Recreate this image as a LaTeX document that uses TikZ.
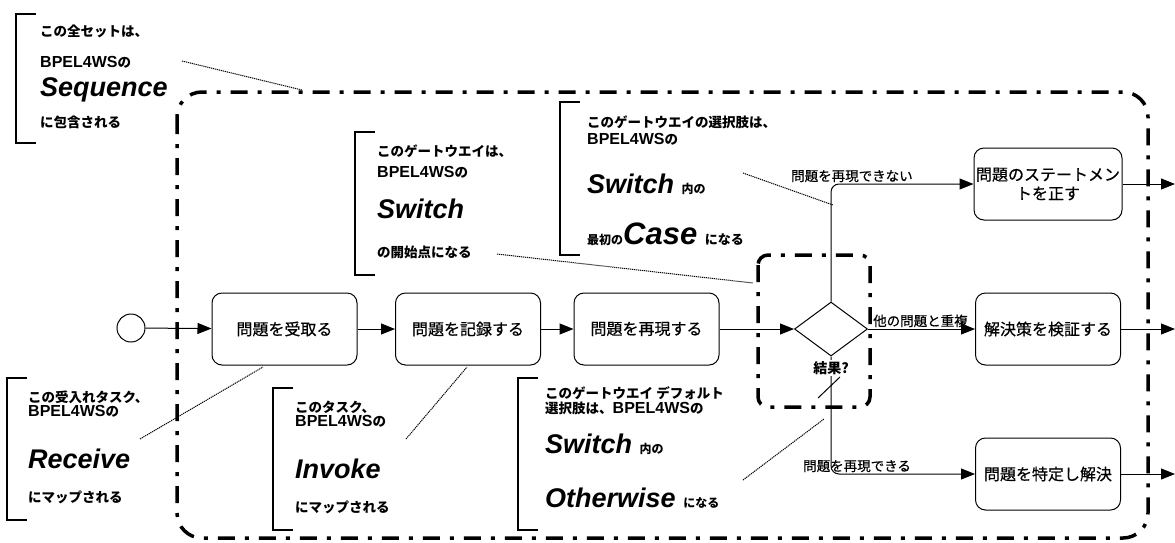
\documentclass[tikz,border=0pt]{standalone}
\usepackage{fontspec}
\setmainfont{Liberation Sans}
\newfontfamily\jp{Noto Sans CJK JP}
\newfontfamily\jpm[FakeBold=0.5]{Noto Sans CJK JP}
\newcommand{\bp}{{\fontsize{16}{18}\selectfont BPEL4WS}}
\usetikzlibrary{shapes.geometric,arrows.meta}
\begin{document}
\begin{tikzpicture}[x=1pt,y=-1pt,
  task/.style={draw, rounded corners=10pt, minimum width=145pt, minimum height=72pt, line width=1pt, font=\jpm\fontsize{16}{19}\selectfont, align=center, inner sep=2pt},
  flow/.style={-{Triangle[length=14pt,width=11pt]}, line width=1pt},
  grp/.style={line width=3.5pt, dash pattern=on 17pt off 10pt on 4pt off 10pt},
  brk/.style={line width=1.5pt},
  note/.style={line width=1pt, dash pattern=on 1.2pt off 0.8pt},
  ann/.style={anchor=west, inner sep=0pt, font=\bfseries\fontsize{13.5}{16}\selectfont},
  big/.style={anchor=base west, inner sep=0pt, font=\bfseries\itshape\fontsize{27}{31}\selectfont},
  lbl/.style={anchor=base west, inner sep=0pt, font=\jpm\fontsize{13.5}{16}\selectfont}
]
\useasboundingbox (0,0) rectangle (1175,542);
\fill[white] (0,0) rectangle (1175,542);

% group boxes
\draw[grp, rounded corners=25pt] (177,92) rectangle (1148,538);
\draw[grp, rounded corners=10pt] (758,255) rectangle (870,407);

% nodes
\node[draw, circle, minimum size=28pt, inner sep=0pt, line width=1pt] (start) at (131,328) {};
\node[task] (b1) at (284.5,329) {問題を受取る};
\node[task] (b2) at (468,329) {問題を記録する};
\node[task] (b3) at (646.5,329) {問題を再現する};
\node[draw, diamond, minimum width=73pt, minimum height=54pt, inner sep=0pt, line width=1pt] (gw) at (831,329) {};
\node[task] (b4) at (1048,184) {問題のステートメン\\トを正す};
\node[task] (b5) at (1048,329) {解決策を検証する};
\node[task] (b6) at (1048,474) {問題を特定し解決};
\coordinate (o4) at (1175,184);
\coordinate (o5) at (1175,329);
\coordinate (o6) at (1175,474);

% flows
\draw[flow] (start) -- (b1);
\draw[flow] (b1) -- (b2);
\draw[flow] (b2) -- (b3);
\draw[flow] (b3) -- (gw);
\draw[flow, rounded corners=8pt] (gw.north) |- (b4.west);
\draw[flow] (gw.east) -- (b5.west);
\draw[flow, rounded corners=8pt] (gw.south) |- (b6.west);
\draw[flow] (b4) -- (o4);
\draw[flow] (b5) -- (o5);
\draw[flow] (b6) -- (o6);
\coordinate (s1) at (818,398);
\coordinate (s2) at (840,377);
\draw[line width=1pt] (s1) -- (s2);

% flow labels
\node[lbl] (l1) at (791,181) {問題を再現できない};
\node[lbl] (l2) at (873,326) {他の問題と重複};
\node[lbl] (l3) at (803,471) {問題を再現できる};
\node[fill=white, inner sep=1pt, font=\jp\bfseries\fontsize{14}{16}\selectfont] (res) at (831,368) {結果?};

% annotation 1
\draw[brk] (36,14) -- (16,14) -- (16,143) -- (36,143);
\node[ann] (a11) at (40,31) {\jp この全セットは、};
\node[ann] (a12) at (40,62) {\bp{\jp の}};
\node[big] (a13) at (40,96) {Sequence};
\node[ann] (a14) at (40,122) {\jp に包含される};

% annotation 2
\draw[brk] (375,132) -- (355,132) -- (355,275) -- (375,275);
\node[ann] (a21) at (377,151) {\jp このゲートウエイは、};
\node[ann] (a22) at (377,172) {\bp{\jp の}};
\node[big] (a23) at (377,218) {Switch};
\node[ann] (a24) at (377,252) {\jp の開始点になる};

% annotation 3
\draw[brk] (580,102) -- (560,102) -- (560,255) -- (580,255);
\node[ann] (a31) at (587,122) {\jp このゲートウエイの選択肢は、};
\node[ann] (a32) at (587,139) {\bp{\jp の}};
\node[big] (a33) at (587,193) {Switch {\jp\upshape\fontsize{12}{14}\selectfont 内の}};
\node[big] (a34) at (587,244) {{\jp\upshape\fontsize{12}{14}\selectfont 最初の}{\fontsize{31}{35}\selectfont Case} {\jp\upshape\fontsize{13}{15}\selectfont になる}};

% annotation 4
\draw[brk] (27,378) -- (7,378) -- (7,520) -- (27,520);
\node[ann] (a41) at (28,397) {\jp この受入れタスク、};
\node[ann] (a42) at (28,411) {\bp{\jp の}};
\node[big] (a43) at (28,468) {Receive};
\node[ann] (a44) at (28,497) {\jp にマップされる};

% annotation 5
\draw[brk] (293,388) -- (273,388) -- (273,530) -- (293,530);
\node[ann] (a51) at (295,407) {\jp このタスク、};
\node[ann] (a52) at (295,421) {\bp{\jp の}};
\node[big] (a53) at (295,478) {Invoke};
\node[ann] (a54) at (295,507) {\jp にマップされる};

% annotation 6
\draw[brk] (538,378) -- (518,378) -- (518,530) -- (538,530);
\node[ann] (a61) at (545,393) {\jp このゲートウエイ デフォルト};
\node[ann] (a62) at (545,408) {{\jp 選択肢は、}\bp{\jp の}};
\node[big] (a63) at (545,453) {Switch {\jp\upshape\fontsize{12}{14}\selectfont 内の}};
\node[big] (a64) at (545,507) {Otherwise {\jp\upshape\fontsize{12}{14}\selectfont になる}};

% annotation connectors
\coordinate (n1a) at (182,61);  \coordinate (n1b) at (302,90);
\coordinate (n2a) at (497,254); \coordinate (n2b) at (753,283);
\coordinate (n3a) at (743,173); \coordinate (n3b) at (833,205);
\coordinate (n4a) at (140,439); \coordinate (n4b) at (263,367);
\coordinate (n5a) at (406,439); \coordinate (n5b) at (467,367);
\coordinate (n6a) at (743,480); \coordinate (n6b) at (824,419);
\draw[note] (n1a) -- (n1b);
\draw[note] (n2a) -- (n2b);
\draw[note] (n3a) -- (n3b);
\draw[note] (n4a) -- (n4b);
\draw[note] (n5a) -- (n5b);
\draw[note] (n6a) -- (n6b);
\end{tikzpicture}
\end{document}
